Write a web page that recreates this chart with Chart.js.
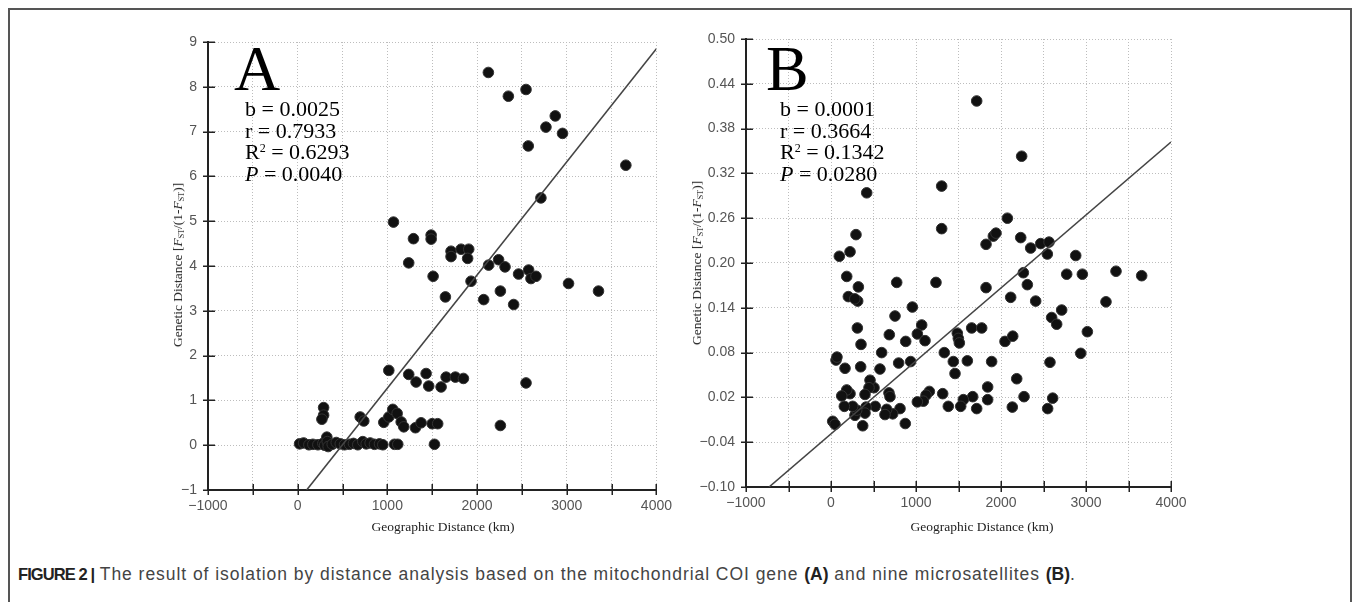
<!DOCTYPE html>
<html>
<head>
<meta charset="utf-8">
<script src="https://cdn.jsdelivr.net/npm/chart.js@4.4.1/dist/chart.umd.min.js"></script>
<style>
  html, body { margin:0; padding:0; background:#fff; }
  body { width:1357px; height:602px; overflow:hidden; position:relative; }
  #frame { position:absolute; left:8px; top:8px; width:1344px; height:620px; border:2px solid #555; box-sizing:border-box; }
  canvas { position:absolute; top:0; }
  .ytitle { position:absolute; font-family:"Liberation Serif","Times New Roman",serif; font-size:13.5px; color:#222; white-space:nowrap; transform:translate(-50%,-50%) rotate(-90deg); }
  .ytitle sub { font-size:8px; vertical-align:-2px; }
  .xtitle { position:absolute; font-family:"Liberation Serif","Times New Roman",serif; font-size:13.5px; color:#222; white-space:nowrap; transform:translate(-50%,-50%); }
  .big { position:absolute; font-family:"Liberation Serif","Times New Roman",serif; font-size:64px; line-height:64px; color:#000; }
  .stats { position:absolute; font-family:"Liberation Serif","Times New Roman",serif; font-size:22px; line-height:21.5px; color:#000; white-space:nowrap; }
  .stats sup { font-size:12px; vertical-align:7px; line-height:0; }
  #caption { position:absolute; left:18px; top:564px; font-family:"Liberation Sans Narrow","Arial Narrow","Liberation Sans",sans-serif; font-size:17.5px; letter-spacing:0.95px; color:#444; white-space:nowrap; }
  #caption b { color:#222; letter-spacing:0; }
  #caption b.fig { font-size:16.5px; letter-spacing:-0.9px; }
</style>
</head>
<body>
<div id="frame"></div>
<canvas id="cA" width="680" height="550" style="left:0px"></canvas>
<canvas id="cB" width="677" height="550" style="left:680px"></canvas>

<div class="big" style="left:234px; top:37px;">A</div>
<div class="stats" style="left:245px; top:98px;">b = 0.0025<br>r = 0.7933<br>R<sup>2</sup> = 0.6293<br><i>P</i> = 0.0040</div>
<div class="big" style="left:766px; top:37px;">B</div>
<div class="stats" style="left:780px; top:98px;">b = 0.0001<br>r = 0.3664<br>R<sup>2</sup> = 0.1342<br><i>P</i> = 0.0280</div>

<div class="ytitle" style="left:178px; top:265px;">Genetic Distance [<i>F</i><sub>ST</sub>/(1-<i>F</i><sub>ST</sub>)]</div>
<div class="ytitle" style="left:697px; top:263px;">Genetic Distance [<i>F</i><sub>ST</sub>/(1-<i>F</i><sub>ST</sub>)]</div>
<div class="xtitle" style="left:443px; top:527px;">Geographic Distance (km)</div>
<div class="xtitle" style="left:982px; top:527px;">Geographic Distance (km)</div>

<div id="caption"><b class="fig">FIGURE 2 |</b> The result of isolation by distance analysis based on the mitochondrial COI gene <b>(A)</b> and nine microsatellites <b>(B)</b>.</div>

<script>
// ---------- data ----------
const xTicks = [-1000, -500, 0, 500, 1000, 1500, 2000, 2500, 3000, 3500, 4000];
const xLabeled = [-1000, 0, 1000, 2000, 3000, 4000];
const yTicksA = [-1, 0, 1, 2, 3, 4, 5, 6, 7, 8, 9];
const yTicksB = [-0.10, -0.04, 0.02, 0.08, 0.14, 0.20, 0.26, 0.32, 0.38, 0.44, 0.50];

// Panel A: geographic distance (km) / genetic distance (COI)
const distA = [2126,2349,2546,2872,2768,2953,2571,3659,2712,
  1068,1291,1488,1488,1238,1510,1710,1710,1822,1907,1895,1933,1647,2129,2240,2312,2074,2260,2408,2463,2575,2601,2657,3020,3354,
  1016,1238,1320,1432,1461,1599,1655,1758,1848,2546,2260,
  289,289,270,697,737,960,1016,1060,1109,1154,1183,1313,1376,1499,1561,1525,1079,1116,
  21,66,125,169,225,281,300,325,330,340,385,430,475,522,578,622,670,726,764,808,856,912,949];
const genA = [8.32,7.79,7.94,7.35,7.10,6.96,6.68,6.25,5.52,
  4.98,4.61,4.69,4.60,4.07,3.77,4.33,4.21,4.375,4.375,4.17,3.66,3.31,4.02,4.14,3.98,3.25,3.44,3.14,3.82,3.91,3.72,3.77,3.61,3.44,
  1.67,1.58,1.41,1.60,1.32,1.30,1.52,1.52,1.49,1.39,0.44,
  0.84,0.67,0.58,0.63,0.54,0.51,0.63,0.80,0.71,0.52,0.41,0.39,0.50,0.48,0.48,0.02,0.02,0.02,
  0.03,0.05,0.01,0.02,0.01,0.04,0.00,0.18,0.08,-0.03,0.02,0.06,0.03,0.01,0.02,0.04,0.01,0.08,0.03,0.05,0.02,0.03,0.01];
const fitAX = [100, 4000];
const fitAY = [-1, 8.85];

// Panel B: geographic distance (km) / genetic distance (microsatellites)
const distB = [1714,2243,1302,420,1302,294,98,224,185,204,322,314,280,773,1235,957,2075,1824,1910,1941,2232,2349,2467,2565,2545,2879,
  2263,2310,1824,2114,2408,2773,2957,3353,3655,3235,2714,2596,2655,3016,2938,2576,2549,2608,2185,2271,2133,2047,2138,1890,1843,1843,
  1714,1667,1557,1526,1604,1655,1773,1486,1498,1510,1439,1459,1333,1314,1380,1157,1118,1086,1016,1067,1016,1106,937,879,753,686,796,
  596,576,874,812,726,655,635,682,694,521,506,459,447,400,412,400,373,282,302,255,224,185,126,157,165,349,353,310,59,70,20,47];
const genB = [0.417,0.343,0.303,0.294,0.246,0.238,0.209,0.215,0.182,0.155,0.168,0.149,0.152,0.174,0.174,0.141,0.260,0.225,0.236,0.240,0.234,0.220,0.226,0.228,0.212,0.210,
  0.187,0.171,0.167,0.154,0.149,0.185,0.185,0.189,0.183,0.148,0.137,0.127,0.118,0.108,0.079,0.067,0.005,0.019,0.045,0.021,0.007,0.095,0.102,0.068,0.034,0.017,
  0.005,0.021,0.017,0.008,0.069,0.113,0.113,0.106,0.099,0.093,0.068,0.052,0.080,0.025,0.008,0.028,0.023,0.015,0.014,0.117,0.105,0.096,0.068,0.095,0.129,0.104,0.066,
  0.080,0.058,-0.015,0.005,-0.002,0.004,-0.003,0.026,0.021,0.008,0.033,0.043,0.033,0.024,0.007,-0.001,-0.018,-0.004,0.003,0.008,0.025,0.030,0.022,0.008,0.059,0.061,0.091,0.113,0.070,0.074,-0.012,-0.016];
const fitBX = [-729, 4000];
const fitBY = [-0.10, 0.362];

// ---------- chart building ----------
const minus = s => String(s).replace('-', '\u2212');
const tickFont = { family: 'Liberation Sans, Arial, sans-serif', size: 14 };

const crossTicks = {
  id: 'crossTicks',
  afterDraw(chart) {
    const ctx = chart.ctx;
    const xs = chart.scales.x, ys = chart.scales.y;
    ctx.save();
    ctx.strokeStyle = '#222';
    ctx.lineWidth = 1.5;
    ctx.beginPath();
    ys.ticks.forEach(t => {
      const py = Math.round(ys.getPixelForValue(t.value)) + 0.25;
      ctx.moveTo(xs.left - 5, py); ctx.lineTo(xs.left + 7, py);
    });
    xs.ticks.forEach(t => {
      const px = Math.round(xs.getPixelForValue(t.value)) + 0.25;
      ctx.moveTo(px, ys.bottom - 6); ctx.lineTo(px, ys.bottom + 5);
    });
    ctx.stroke();
    ctx.restore();
  }
};

function makeChart(id, xs, ys, fx, fy, yTicks, yFmt, pad) {
  const pts = xs.map((x, i) => ({ x: x, y: ys[i] }));
  const line = fx.map((x, i) => ({ x: x, y: fy[i] }));
  return new Chart(document.getElementById(id), {
    type: 'scatter',
    data: {
      datasets: [
        { data: pts, pointRadius: 5.3, pointBackgroundColor: '#111', pointBorderColor: '#333', pointBorderWidth: 1, order: 2 },
        { type: 'line', data: line, showLine: true, pointRadius: 0, borderColor: '#444', borderWidth: 1.6, fill: false, order: 1 }
      ]
    },
    options: {
      responsive: false, animation: false, devicePixelRatio: 1,
      layout: { padding: pad },
      plugins: { legend: { display: false }, tooltip: { enabled: false } },
      scales: {
        x: {
          type: 'linear', min: xTicks[0], max: xTicks[xTicks.length - 1],
          afterBuildTicks: s => { s.ticks = xTicks.map(v => ({ value: v })); },
          afterFit: s => { s.height = 30; },
          ticks: { font: tickFont, color: '#555', padding: 8, maxRotation: 0, autoSkip: false,
                   callback: v => xLabeled.includes(v) ? minus(v) : '' },
          grid: { color: '#bdbdbd', lineWidth: 1, drawTicks: false },
          border: { display: true, color: '#222', width: 2, dash: [1, 2] }
        },
        y: {
          type: 'linear', min: yTicks[0], max: yTicks[yTicks.length - 1],
          afterBuildTicks: s => { s.ticks = yTicks.map(v => ({ value: v })); },
          afterFit: s => { s.width = 60; },
          ticks: { font: tickFont, color: '#555', padding: 11, autoSkip: false, callback: yFmt },
          grid: { color: '#bdbdbd', lineWidth: 1, drawTicks: false },
          border: { display: true, color: '#222', width: 2, dash: [1, 2] }
        }
      }
    },
    plugins: [crossTicks]
  });
}

makeChart('cA', distA, genA, fitAX, fitAY, yTicksA, v => minus(v), { left: 148, top: 42, right: 23, bottom: 30 });
makeChart('cB', distB, genB, fitBX, fitBY, yTicksB, v => minus(Number(v).toFixed(2)), { left: 6, top: 39, right: 186, bottom: 33 });
</script>
</body>
</html>
